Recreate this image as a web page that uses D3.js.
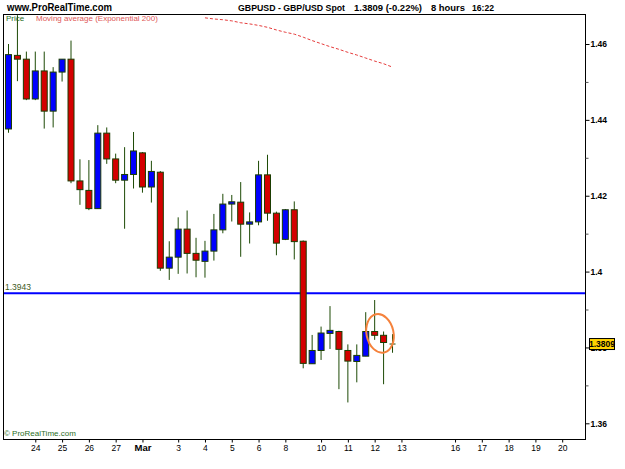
<!DOCTYPE html>
<html><head><meta charset="utf-8">
<script src="https://cdn.jsdelivr.net/npm/d3@7"></script>
<style>
html,body{margin:0;padding:0;background:#fff;}
svg{display:block;font-family:"Liberation Sans",Arial,Helvetica,sans-serif;}
</style></head>
<body><svg id="c" width="625" height="469"></svg>
<script>
// ---- data (8-hour GBPUSD candles) ----
const candleIndex = d3.range(44);
const openVals  = [1.4376,1.4570,1.4560,1.4455,1.4529,1.4423,1.4526,1.4560,1.4239,1.4214,1.4166,1.4365,1.4297,1.4241,1.4256,1.4313,1.4223,1.4262,1.4009,1.4038,1.4112,1.4048,1.4027,1.4054,1.4110,1.4178,1.4183,1.4125,1.4131,1.4255,1.4154,1.4085,1.4163,1.4080,1.3757,1.3792,1.3837,1.3842,1.3792,1.3763,1.3777,1.3842,1.3832,1.3811];
const highVals  = [1.4600,1.4676,1.4580,1.4580,1.4580,1.4539,1.4560,1.4609,1.4296,1.4294,1.4386,1.4380,1.4311,1.4328,1.4368,1.4315,1.4292,1.4265,1.4080,1.4143,1.4161,1.4089,1.4081,1.4152,1.4205,1.4202,1.4236,1.4156,1.4292,1.4308,1.4158,1.4165,1.4185,1.4082,1.3833,1.3855,1.3909,1.3844,1.3808,1.3808,1.3893,1.3925,1.3842,1.3835];
const lowVals   = [1.4366,1.4502,1.4452,1.4452,1.4377,1.4380,1.4501,1.4233,1.4176,1.4162,1.4165,1.4284,1.4233,1.4113,1.4219,1.4208,1.4182,1.4002,1.3978,1.3994,1.3995,1.3985,1.3984,1.4029,1.4101,1.4132,1.4039,1.4074,1.4122,1.4134,1.4043,1.4083,1.4032,1.3745,1.3757,1.3767,1.3796,1.3690,1.3655,1.3708,1.3777,1.3820,1.3703,1.3786];
const closeVals = [1.4572,1.4560,1.4455,1.4529,1.4423,1.4526,1.4560,1.4239,1.4216,1.4166,1.4365,1.4297,1.4241,1.4256,1.4318,1.4223,1.4264,1.4009,1.4038,1.4112,1.4048,1.4030,1.4054,1.4110,1.4178,1.4184,1.4125,1.4131,1.4255,1.4154,1.4075,1.4163,1.4079,1.3758,1.3792,1.3838,1.3845,1.3795,1.3764,1.3779,1.3842,1.3832,1.3813,1.3809];
const emaIndex  = d3.range(22, 44);
const emaVals   = [1.4669,1.4666,1.4664,1.4661,1.4656,1.4653,1.4649,1.4644,1.4637,1.4631,1.4626,1.4618,1.4609,1.4601,1.4593,1.4586,1.4578,1.4571,1.4563,1.4555,1.4548,1.4539];
const xTickIndex  = [3,6,9,12,15,19,22,25,28,31,35,38,41,44,50,53,56,59,62];
const xTickLabels = ["24","25","26","27","Mar","3","4","5","6","8","10","11","12","13","16","17","18","19","20"];
const yTickValues = [1.36,1.38,1.40,1.42,1.44,1.46];
const yTickLabels = ["1.36","1.38","1.4","1.42","1.44","1.46"];
const yMinorTicks = [1.37,1.39,1.41,1.43,1.45];
const hLineValue = 1.3943;
const lastPrice = 1.3809;
const circleIndex = 41.6, circlePrice = 1.3837;

// ---- layout ----
const L = 3, T = 14, R = 586, B = 439;
const svg = d3.select("#c");
const x = d3.scaleLinear().domain([0, 62]).range([8.5, 562.2]);
const y = d3.scaleLinear().domain([1.36, 1.46]).range([423.3, 44]);

svg.append("defs").append("clipPath").attr("id","pc")
  .append("rect").attr("x",L).attr("y",T).attr("width",R-L).attr("height",B-T);

// header texts
svg.append("text").attr("x",7).attr("y",10.5).attr("font-size",10).attr("font-weight","bold")
  .attr("textLength",105).attr("lengthAdjust","spacingAndGlyphs").text("www.ProRealTime.com");
const hdr = [["GBPUSD - GBP/USD Spot",238,107],["1.3809 (-0.22%)",354,68],["8 hours",431,34],["16:22",472,22]];
hdr.forEach(h => svg.append("text").attr("x",h[1]).attr("y",10.5).attr("font-size",9.5)
  .attr("font-weight","bold").attr("textLength",h[2]).attr("lengthAdjust","spacingAndGlyphs").text(h[0]));

const plot = svg.append("g").attr("clip-path","url(#pc)");

// EMA dashed line
plot.append("path")
  .datum(emaIndex.map((d,i)=>[d,emaVals[i]]))
  .attr("fill","none").attr("stroke","#e63c3c").attr("stroke-width",1)
  .attr("stroke-dasharray","3,2")
  .attr("d", d3.line().x(d=>x(d[0])).y(d=>y(d[1])));

// horizontal blue line
plot.append("line").attr("x1",L).attr("x2",R).attr("y1",y(hLineValue)).attr("y2",y(hLineValue))
  .attr("stroke","#0000ff").attr("stroke-width",2);
svg.append("text").attr("x",5).attr("y",y(hLineValue)-3.5).attr("font-size",8.5)
  .attr("fill","#3d5a1a").text(String(hLineValue));

// candles
const bw = 6;
const cg = plot.append("g");
candleIndex.forEach(i => {
  const o = openVals[i], c = closeVals[i], h = highVals[i], l = lowVals[i];
  const cx = x(i);
  cg.append("line").attr("x1",cx).attr("x2",cx).attr("y1",y(h)).attr("y2",y(l))
    .attr("stroke","#1d4a05").attr("stroke-width",1);
  const top = y(Math.max(o,c)), bot = y(Math.min(o,c));
  const up = c > o, doji = Math.abs(c-o) < 0.00025;
  if (doji) {
    cg.append("line").attr("x1",cx-3).attr("x2",cx+3).attr("y1",y(c)).attr("y2",y(c))
      .attr("stroke","#1d4a05").attr("stroke-width",1);
  } else {
    cg.append("rect").attr("x",cx-bw/2).attr("y",top).attr("width",bw).attr("height",Math.max(bot-top,1.5))
      .attr("fill", up ? "#0000ff" : "#d40000").attr("stroke","#1a3d00").attr("stroke-width",1);
  }
});

// orange annotation ellipse
const ex = x(circleIndex), ey = y(circlePrice);
plot.append("ellipse").attr("cx",ex).attr("cy",ey).attr("rx",13.5).attr("ry",19.5)
  .attr("transform",`rotate(-12,${ex},${ey})`)
  .attr("fill","none").attr("stroke","#f5823c").attr("stroke-width",2);

// legend texts
svg.append("text").attr("x",6).attr("y",21).attr("font-size",8).attr("fill","#1e6a1e").text("Price");
svg.append("text").attr("x",36).attr("y",21).attr("font-size",8).attr("fill","#e05858").text("Moving average (Exponential 200)");
svg.append("text").attr("x",4).attr("y",435.5).attr("font-size",8).attr("fill","#2a6e1e").text("\u00A9 ProRealTime.com");

// frame
svg.append("rect").attr("x",L+0.5).attr("y",T+0.5).attr("width",R-L-1).attr("height",B-T)
  .attr("fill","none").attr("stroke","#000").attr("stroke-width",1);

// right axis
const yAx = svg.append("g").attr("transform",`translate(${R-0.5},0)`)
  .call(d3.axisRight(y).tickValues(yTickValues).tickSize(4).tickPadding(1)
    .tickFormat((d,i)=>yTickLabels[i]));
yAx.select(".domain").remove();
yAx.selectAll("text").attr("font-size",8.5).attr("font-weight","bold").attr("fill","#000")
  .attr("font-family","Liberation Sans, Arial, sans-serif");
yAx.selectAll("line").attr("stroke","#000");
const yMin = svg.append("g").attr("transform",`translate(${R-0.5},0)`)
  .call(d3.axisRight(y).tickValues(yMinorTicks).tickSize(3).tickFormat(""));
yMin.select(".domain").remove();
yMin.selectAll("line").attr("stroke","#555");

// last price box
const lp = y(lastPrice);
svg.append("rect").attr("x",589.5).attr("y",lp-5.5).attr("width",25).attr("height",11)
  .attr("fill","#ffd200").attr("stroke","#000").attr("stroke-width",1);
svg.append("text").attr("x",602).attr("y",lp+3.2).attr("text-anchor","middle")
  .attr("font-size",8.5).attr("font-weight","bold").attr("fill","#000").text(lastPrice.toFixed(4));

// bottom axis
const xAx = svg.append("g").attr("transform",`translate(0,${B+0.5})`)
  .call(d3.axisBottom(x).tickValues(xTickIndex).tickSize(3).tickPadding(2)
    .tickFormat((d,i)=>xTickLabels[i]));
xAx.select(".domain").remove();
xAx.selectAll("line").attr("stroke","#000");
xAx.selectAll("text").attr("font-size",8.5).attr("fill","#000")
  .attr("font-family","Liberation Sans, Arial, sans-serif")
  .attr("font-weight",(d,i)=>xTickLabels[i]==="Mar"?"bold":"normal")
  .attr("font-size",(d,i)=>xTickLabels[i]==="Mar"?9.5:8.5);
</script></body></html>
